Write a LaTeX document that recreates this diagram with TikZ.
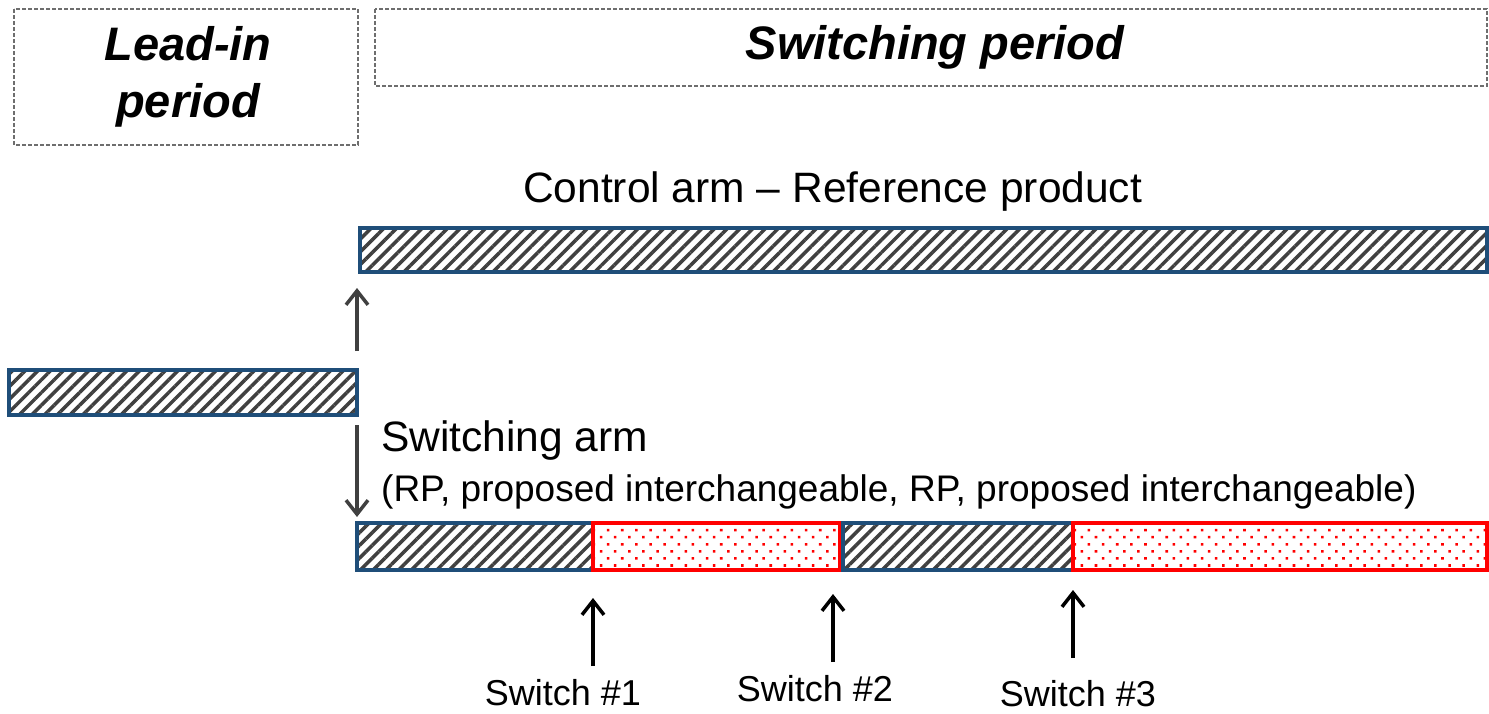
\documentclass[tikz,border=0pt]{standalone}
\usepackage{fontspec}
\setmainfont{Liberation Sans}
\usetikzlibrary{patterns.meta,arrows.meta}
\definecolor{barblue}{RGB}{31,78,121}
\definecolor{hatchgray}{RGB}{64,64,64}
\definecolor{boxgray}{RGB}{110,110,110}
\begin{document}
\begin{tikzpicture}[x=1pt,y=-1pt,
  periodbox/.style={draw=boxgray,dash pattern=on 4pt off 2pt,line width=1.3pt,inner sep=0pt},
  rpbar/.style={draw=barblue,line width=3.5pt,pattern={Lines[angle=45,distance=9pt,line width=3.5pt]},pattern color=hatchgray},
  ipbar/.style={draw=red,line width=3.5pt,pattern={Dots[radius=1.8pt,distance=10pt,angle=45]},pattern color=red},
  grayarrow/.style={draw=hatchgray,line width=3.5pt,-{Straight Barb[length=14pt,width=22pt,line width=3.5pt]}},
  blackarrow/.style={draw=black,line width=3.5pt,-{Straight Barb[length=14pt,width=22pt,line width=3.5pt]}},
  hdr/.style={font=\fontsize{47}{57}\selectfont\bfseries\itshape,align=center},
  lbl/.style={font=\fontsize{42.5}{46}\selectfont,anchor=west,inner sep=0pt},
  swlbl/.style={font=\fontsize{36}{40}\selectfont,inner sep=0pt}
]
\useasboundingbox (0,0) rectangle (1489,714);
% period boxes
\draw[periodbox] (14,9) rectangle (358,145);
\draw[periodbox] (375,9) rectangle (1487,86);
\node[hdr] (leadin) at (188,77) {Lead-in\\period};
\node[hdr] (switchper) at (935,47) {Switching period};
% texts
\node[lbl] (ctrl) at (523,192) {Control arm -- Reference product};
\node[lbl] (swarm) at (381,441) {Switching arm};
\node[lbl,font=\fontsize{37}{40}\selectfont] (seq) at (381,492) {(RP, proposed interchangeable, RP, proposed interchangeable)};
% bars
\draw[rpbar] (360,228) rectangle (1487,272);
\draw[rpbar] (9,370) rectangle (357,415);
\draw[rpbar] (357,523) rectangle (593,570);
\draw[ipbar] (593,523) rectangle (840,570);
\draw[rpbar] (843,523) rectangle (1073,570);
\draw[ipbar] (1073,523) rectangle (1487,570);
% arrows
\coordinate (upstart) at (357,351);
\coordinate (upend) at (357,288);
\draw[grayarrow] (upstart) -- (upend);
\coordinate (downstart) at (357,425);
\coordinate (downend) at (357,517);
\draw[grayarrow] (downstart) -- (downend);
% switch labels and arrows
\node[swlbl] (sw1) at (563,693) {Switch \#1};
\node[swlbl] (sw2) at (815,689) {Switch \#2};
\node[swlbl] (sw3) at (1078,694) {Switch \#3};
\coordinate (s1a) at (593,666); \coordinate (s1b) at (593,598);
\coordinate (s2a) at (833,662); \coordinate (s2b) at (833,594);
\coordinate (s3a) at (1073,658); \coordinate (s3b) at (1073,590);
\draw[blackarrow] (s1a) -- (s1b);
\draw[blackarrow] (s2a) -- (s2b);
\draw[blackarrow] (s3a) -- (s3b);
\end{tikzpicture}
\end{document}
